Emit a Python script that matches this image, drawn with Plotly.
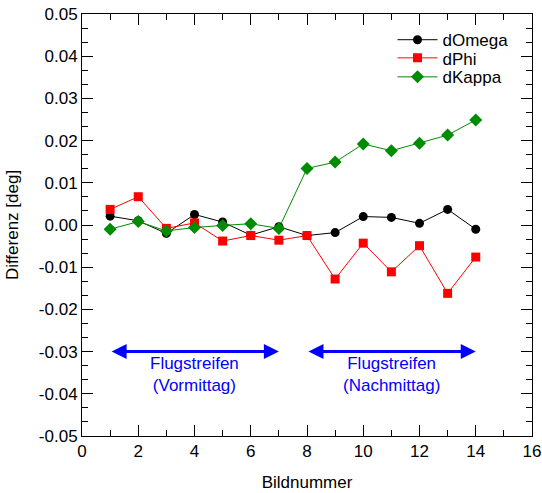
import plotly.graph_objects as go

bild = [1, 2, 3, 4, 5, 6, 7, 8, 9, 10, 11, 12, 13, 14]
d_omega = [0.0021, 0.0010, -0.0020, 0.0025, 0.0007, -0.0024, -0.0004,
           -0.0025, -0.0018, 0.0020, 0.0018, 0.0004, 0.0037, -0.0010]
d_phi = [0.0037, 0.0067, -0.0008, 0.0005, -0.0038, -0.0025, -0.0036,
         -0.0025, -0.0128, -0.0043, -0.0111, -0.0049, -0.0162, -0.0076]
d_kappa = [-0.0010, 0.0008, -0.0014, -0.0006, -0.0001, 0.0003, -0.0008,
           0.0134, 0.0149, 0.0192, 0.0176, 0.0194, 0.0213, 0.0249]

x_ticks = [0, 2, 4, 6, 8, 10, 12, 14, 16]
y_ticks = [0.05, 0.04, 0.03, 0.02, 0.01, 0.0, -0.01, -0.02, -0.03, -0.04, -0.05]

strips = [
    {"start": 1, "end": 7, "label": "Flugstreifen<br>(Vormittag)"},
    {"start": 8, "end": 14, "label": "Flugstreifen<br>(Nachmittag)"},
]
arrow_y = -0.03

font_family = "Liberation Sans, Arial, Helvetica, sans-serif"
fs = 17

series = [
    ("dOmega", d_omega, "black", "circle", 9, "legend", 0.938),
    ("dPhi", d_phi, "red", "square", 9, "legend2", 0.895),
    ("dKappa", d_kappa, "#008C00", "diamond", 10, "legend3", 0.850),
]

fig = go.Figure()
legend_layout = {}
for name, vals, color, sym, size, leg, ly in series:
    fig.add_trace(go.Scatter(x=bild, y=vals, name=name, mode="lines+markers",
                             line=dict(color=color, width=1),
                             marker=dict(symbol=sym, size=size, color=color),
                             legend=leg))
    legend_layout[leg] = dict(x=0.69, y=ly, xanchor="left", yanchor="middle",
                              bgcolor="rgba(0,0,0,0)", itemwidth=40,
                              font=dict(size=fs, family=font_family, color="black"))

for s in strips:
    fig.add_annotation(x=s["end"], y=arrow_y, ax=s["start"], ay=arrow_y,
                       xref="x", yref="y", axref="x", ayref="y",
                       text="", showarrow=True, arrowhead=2, startarrowhead=2,
                       arrowside="end+start", arrowsize=1, startarrowsize=1,
                       arrowwidth=3, arrowcolor="blue")
    fig.add_annotation(x=(s["start"] + s["end"]) / 2, y=arrow_y, xref="x", yref="y",
                       text=s["label"], showarrow=False, yanchor="top", yshift=0,
                       font=dict(color="blue", size=fs, family=font_family))

axis_common = dict(showline=True, linecolor="black", linewidth=1, mirror="allticks",
                   ticks="inside", ticklen=11, tickwidth=1, tickcolor="black",
                   showgrid=False, zeroline=False, automargin=False,
                   ticklabeloverflow="allow",
                   tickfont=dict(size=fs, family=font_family, color="black"))

fig.update_xaxes(range=[0, 16], tickvals=x_ticks, ticktext=[str(v) for v in x_ticks],
                 minor=dict(dtick=1, ticks="inside", ticklen=6, tickcolor="black", showgrid=False),
                 title=dict(text="Bildnummer", font=dict(size=fs, family=font_family, color="black")),
                 **axis_common)
fig.update_yaxes(range=[-0.05, 0.05], tickvals=y_ticks, ticktext=[f"{v:.2f}" for v in y_ticks],
                 minor=dict(tick0=0, dtick=0.01 / 3, ticks="inside", ticklen=6, tickcolor="black",
                            showgrid=False),
                 title=dict(text="Differenz [deg]", font=dict(size=fs, family=font_family, color="black")),
                 **axis_common)

fig.update_layout(width=542, height=493, plot_bgcolor="white", paper_bgcolor="white",
                  margin=dict(l=82, r=10, t=14, b=57),
                  font=dict(family=font_family, size=fs, color="black"),
                  showlegend=True, **legend_layout)

fig.write_html("out.html", config={"displayModeBar": False},
               post_script="document.body.style.margin='0';document.body.style.overflow='hidden';")
